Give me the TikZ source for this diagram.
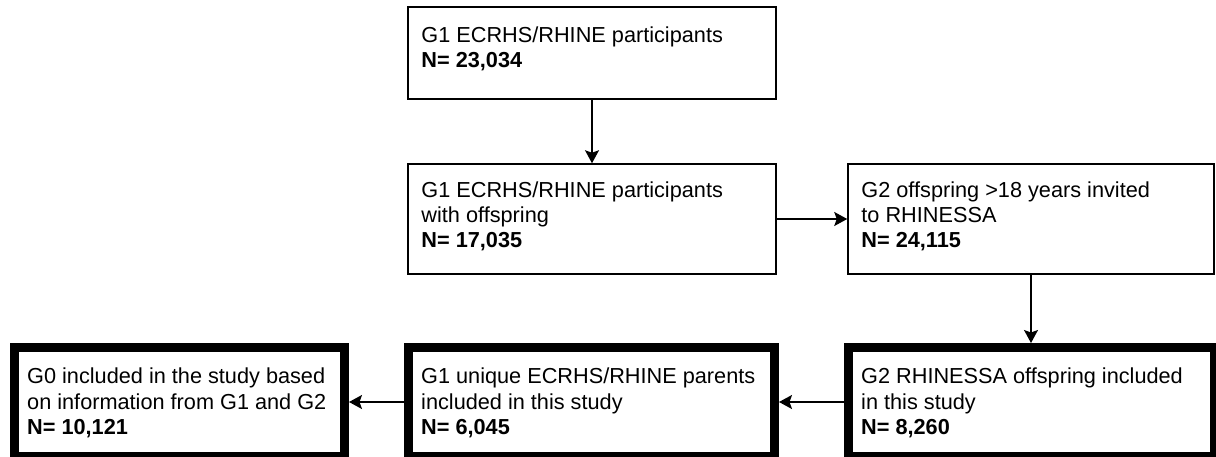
\documentclass[tikz,border=0pt]{standalone}
\usepackage{fontspec}
\setmainfont{Liberation Sans}
\usetikzlibrary{arrows.meta}
\begin{document}
\begin{tikzpicture}[x=1pt,y=-1pt,
  tbox/.style={draw, line width=1.5pt, inner sep=0pt, minimum width=368pt},
  kbox/.style={draw, line width=9pt, inner sep=0pt, minimum width=366pt, minimum height=109pt},
  txt/.style={anchor=north west, inner sep=0pt, align=left, font=\fontsize{21.7}{25.3}\selectfont},
  arr/.style={line width=1.5pt, -{Stealth[length=13pt,width=14pt,inset=2.5pt]}}]
\useasboundingbox (0,0) rectangle (1216,457);
% boxes
\node[tbox, minimum height=92pt] (g1) at (592,53) {};
\node[tbox, minimum height=110pt] (off) at (592,219) {};
\node[tbox, minimum width=366pt, minimum height=110pt] (g2inv) at (1031,219) {};
\node[kbox] (g2inc) at (1031.5,402) {};
\node[kbox] (g1par) at (591.5,402) {};
\node[kbox, minimum width=330pt] (g0) at (179.5,402) {};
% texts
\node[txt] at ([shift={(14,20)}]g1.north west) {G1 ECRHS/RHINE participants\\\textbf{N= 23,034}};
\node[txt] at ([shift={(14,18)}]off.north west) {G1 ECRHS/RHINE participants\\with offspring\\\textbf{N= 17,035}};
\node[txt] at ([shift={(14,18)}]g2inv.north west) {G2 offspring >18 years invited\\to RHINESSA\\\textbf{N= 24,115}};
\node[txt] at ([shift={(17,25)}]g2inc.north west) {G2 RHINESSA offspring included\\in this study\\\textbf{N= 8,260}};
\node[txt] at ([shift={(17,25)}]g1par.north west) {G1 unique ECRHS/RHINE parents\\included in this study\\\textbf{N= 6,045}};
\node[txt] at ([shift={(17,25)}]g0.north west) {G0 included in the study based\\on information from G1 and G2\\\textbf{N= 10,121}};
% connectors
\draw[arr] (g1) -- (off);
\draw[arr] (off) -- (g2inv);
\draw[arr] (g2inv.south) -- (g2inv.south |- g2inc.north);
\draw[arr] (g2inc) -- (g1par);
\draw[arr] (g1par) -- (g0);
\end{tikzpicture}
\end{document}
